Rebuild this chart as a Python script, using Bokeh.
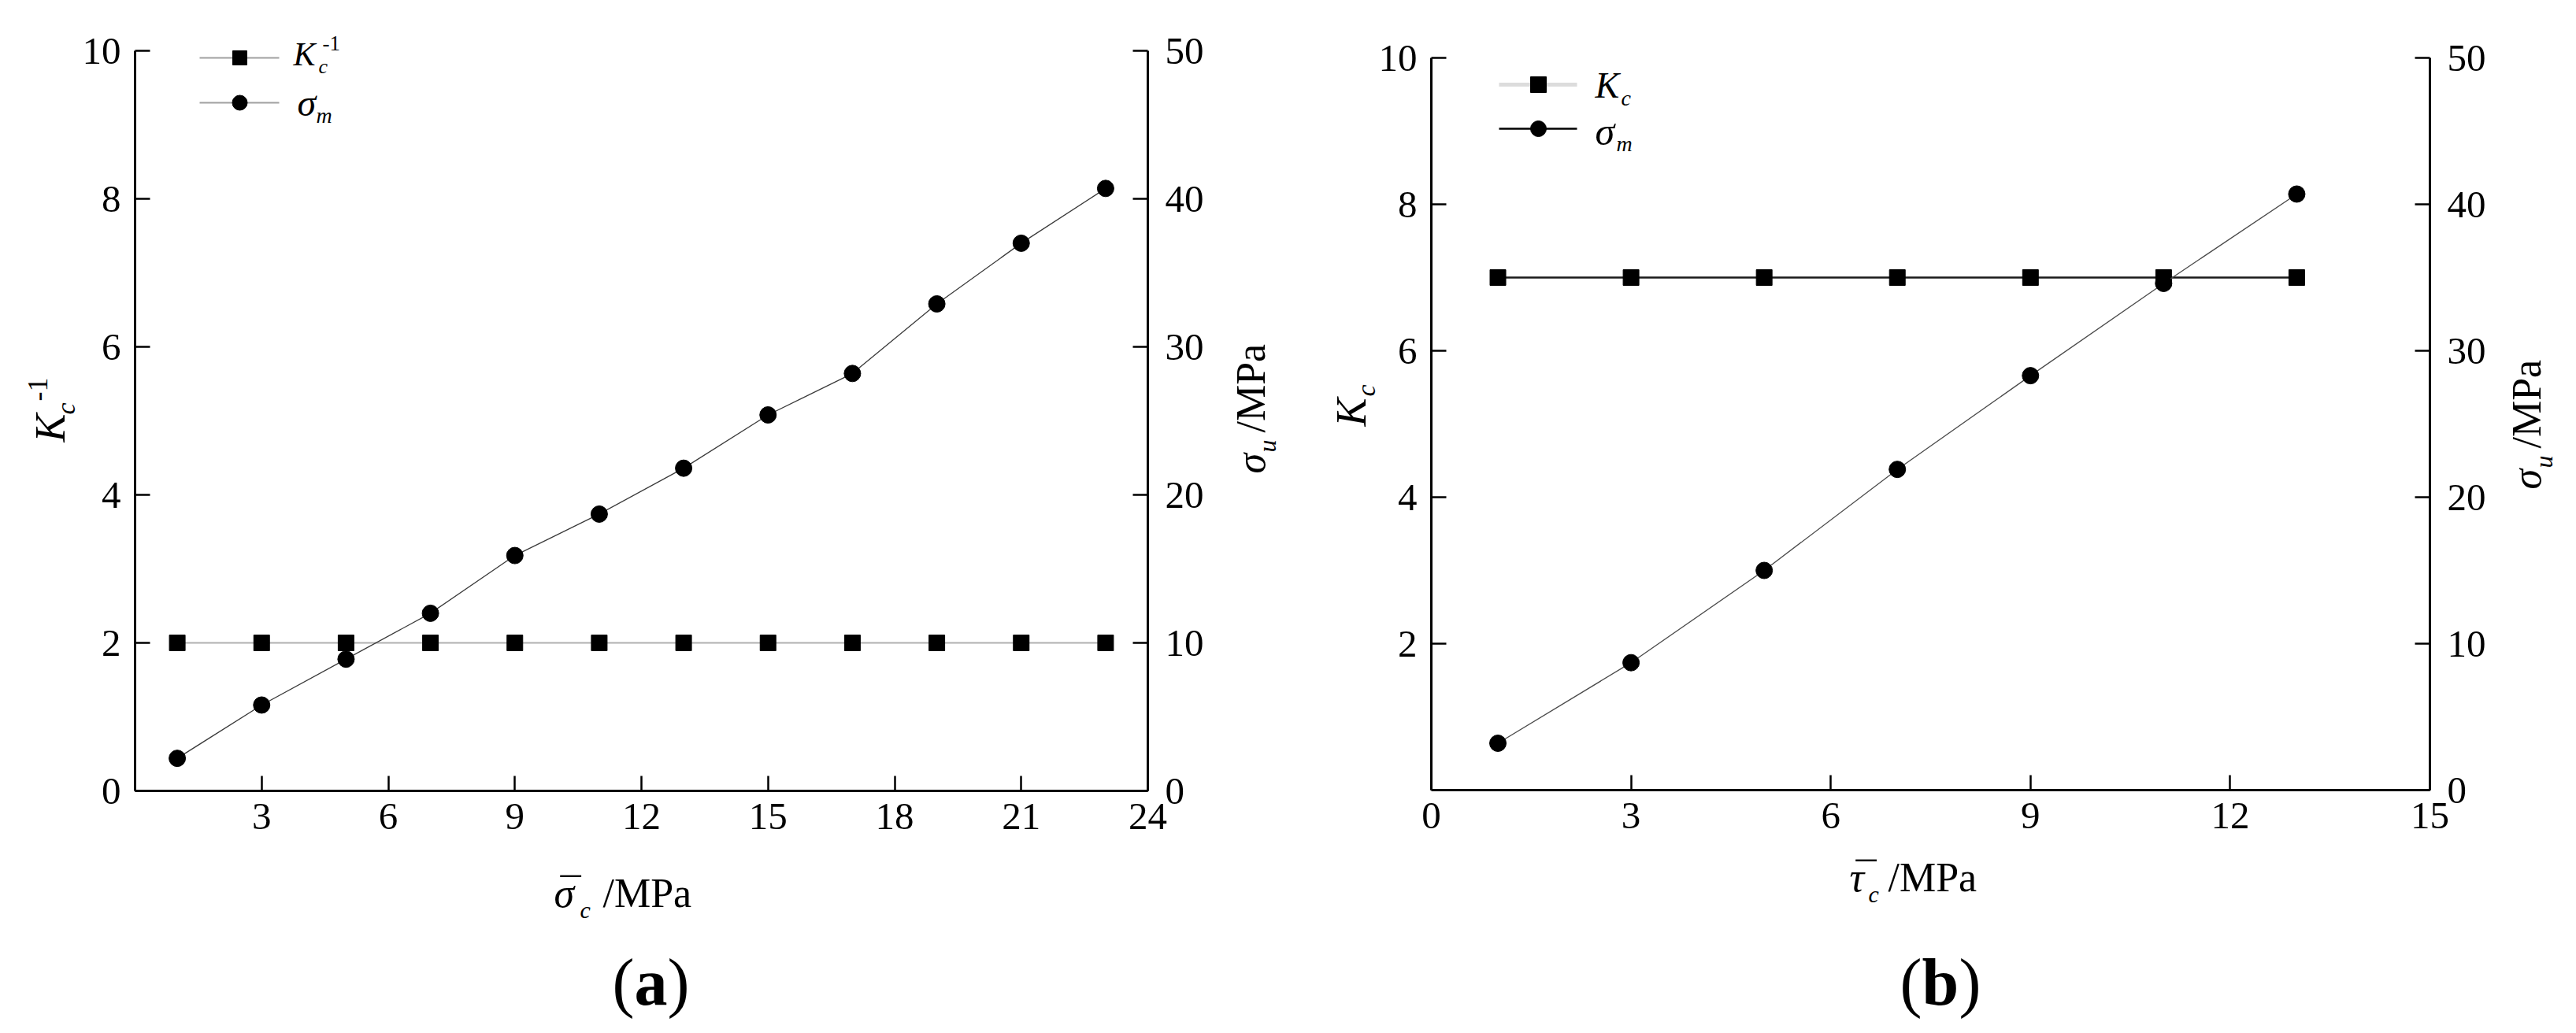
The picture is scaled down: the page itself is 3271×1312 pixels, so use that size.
import math
from bokeh.plotting import figure
from bokeh.models import Range1d, LinearAxis, FixedTicker, Label
from bokeh.layouts import row
from bokeh.embed import file_html
from bokeh.resources import INLINE

# ---------------- data ----------------
# panel (a)
sigma_c_bar = [1, 3, 5, 7, 9, 11, 13, 15, 17, 19, 21, 23]
kc_inv = [2.0, 2.0, 2.0, 2.0, 2.0, 2.0, 2.0, 2.0, 2.0, 2.0, 2.0, 2.0]
sigma_m_a = [2.2, 5.8, 8.9, 12.0, 15.9, 18.7, 21.8, 25.4, 28.2, 32.9, 37.0, 40.7]
xticks_a = [3, 6, 9, 12, 15, 18, 21, 24]
yticks_a = [0, 2, 4, 6, 8, 10]
# panel (b)
tau_c_bar = [1, 3, 5, 7, 9, 11, 13]
kc_b = [7.0, 7.0, 7.0, 7.0, 7.0, 7.0, 7.0]
sigma_m_b = [3.2, 8.7, 15.0, 21.9, 28.3, 34.6, 40.7]
xticks_b = [0, 3, 6, 9, 12, 15]
yticks_b = [2, 4, 6, 8, 10]
rticks = [0, 10, 20, 30, 40, 50]

FONT = "Liberation Serif"
TICK = "49px"
PAGE_TOP, PAGE_BOTTOM = 0, 1300
K_SHIFT = 0.27  # baseline correction (fraction of font size)


def make_fig(px0, px1, X, Y, xmax, xt, yt):
    """Figure whose plotting frame fills the whole canvas; axes sit at fixed locations."""
    p = figure(width=px1 - px0, height=PAGE_BOTTOM - PAGE_TOP,
               x_range=Range1d(X(px0), X(px1)),
               y_range=Range1d(Y(PAGE_BOTTOM), Y(PAGE_TOP)),
               output_backend="svg", toolbar_location=None, min_border=0,
               x_axis_location=None, y_axis_location=None)
    p.extra_y_ranges = {"right": Range1d(5 * Y(PAGE_BOTTOM), 5 * Y(PAGE_TOP))}
    p.outline_line_color = None
    p.xgrid.grid_line_color = None
    p.ygrid.grid_line_color = None
    p.background_fill_color = "white"
    p.border_fill_color = "white"
    bx = LinearAxis(ticker=FixedTicker(ticks=xt), fixed_location=0, bounds=(0, xmax))
    ly = LinearAxis(ticker=FixedTicker(ticks=yt), fixed_location=0, bounds=(0, 10))
    ry = LinearAxis(y_range_name="right", ticker=FixedTicker(ticks=rticks),
                    fixed_location=xmax, bounds=(0, 50))
    for ax, st in ((bx, 16), (ly, 18), (ry, 22)):
        ax.axis_line_width = 3
        ax.axis_line_color = "black"
        ax.major_tick_in = 19
        ax.major_tick_out = 0
        ax.major_tick_line_width = 2.5
        ax.minor_tick_line_color = None
        ax.major_label_text_font = FONT
        ax.major_label_text_font_size = TICK
        ax.major_label_text_color = "black"
        ax.major_label_standoff = st
    p.add_layout(bx, "below")
    p.add_layout(ly, "left")
    p.add_layout(ry, "right")
    return p


def labeler(p, X, Y):
    def lab(px, py, text, size, style="normal", angle=0.0):
        if angle:
            px = px - K_SHIFT * size
        else:
            py = py - K_SHIFT * size
        p.add_layout(Label(x=X(px), y=Y(py), text=text, text_font=FONT,
                           text_font_size=f"{size}px", text_font_style=style,
                           angle=angle, text_align="left", text_baseline="alphabetic",
                           text_color="black"))
    return lab


R = math.pi / 2

# ---------------- panel (a) ----------------
XA = lambda px: (px - 171) * 24 / 1286
YA = lambda py: (1004 - py) * 10 / 940
pa = make_fig(0, 1650, XA, YA, 24, xticks_a, yticks_a)

pa.line(sigma_c_bar, kc_inv, line_color="#b0b0b0", line_width=2)
pa.scatter(sigma_c_bar, kc_inv, marker="square", size=20, color="black")
pa.line(sigma_c_bar, sigma_m_a, y_range_name="right", line_color="#3a3a3a", line_width=1.3)
pa.scatter(sigma_c_bar, sigma_m_a, y_range_name="right", marker="circle", size=21, color="black")

# legend (a)
pa.line([XA(253), XA(354)], [YA(73), YA(73)], line_color="#a0a0a0", line_width=2)
pa.scatter([XA(304)], [YA(73)], marker="square", size=18, color="black")
pa.line([XA(253), XA(354)], [YA(130), YA(130)], line_color="#a0a0a0", line_width=2)
pa.scatter([XA(304)], [YA(130)], marker="circle", size=19, color="black")

la = labeler(pa, XA, YA)
la(372, 80, "K", 42, "italic")
la(404, 91, "c", 26, "italic")
la(409, 62, "-1", 27)
la(377, 143, "σ", 48, "italic")
la(401, 154, "m", 28, "italic")
# left axis label
la(78, 561, "K", 54, "italic", R)
la(92, 526, "c", 34, "italic", R)
la(57, 509, "-1", 36, "normal", R)
# right axis label
la(1602, 601, "σ", 52, "italic", R)
la(1617, 574, "u", 32, "italic", R)
la(1602, 549, "/MPa", 52, "normal", R)
# bottom axis label
la(703, 1148, "σ", 52, "italic")
la(707, 1148, "¯", 52, "italic")
la(736, 1163, "c", 30, "italic")
la(765, 1148, "/MPa", 52)
# caption
la(777, 1270, "(", 84)
la(805, 1270, "a", 84, "bold")
la(847, 1270, ")", 84)

# ---------------- panel (b) ----------------
XB = lambda px: (px - 1817) * 15 / 1268
YB = lambda py: (1003 - py) * 10 / 930
pb = make_fig(1650, 3262, XB, YB, 15, xticks_b, yticks_b)

pb.line(tau_c_bar, kc_b, line_color="#1a1a1a", line_width=2.5)
pb.scatter(tau_c_bar, kc_b, marker="square", size=20, color="black")
pb.line(tau_c_bar, sigma_m_b, y_range_name="right", line_color="#4a4a4a", line_width=1.3)
pb.scatter(tau_c_bar, sigma_m_b, y_range_name="right", marker="circle", size=21, color="black")

# legend (b)
pb.line([XB(1903), XB(2002)], [YB(107), YB(107)], line_color="#dcdcdc", line_width=5)
pb.scatter([XB(1953)], [YB(107)], marker="square", size=20, color="black")
pb.line([XB(1903), XB(2002)], [YB(163), YB(163)], line_color="black", line_width=2.5)
pb.scatter([XB(1953)], [YB(163)], marker="circle", size=20, color="black")

lb = labeler(pb, XB, YB)
lb(2025, 120, "K", 46, "italic")
lb(2058, 132, "c", 28, "italic")
lb(2025, 180, "σ", 50, "italic")
lb(2052, 190, "m", 28, "italic")
# left axis label
lb(1730, 541, "K", 54, "italic", R)
lb(1743, 503, "c", 34, "italic", R)
# right axis label
lb(3222, 621, "σ", 52, "italic", R)
lb(3238, 594, "u", 32, "italic", R)
lb(3222, 569, "/MPa", 52, "normal", R)
# bottom axis label
lb(2348, 1128, "τ", 52, "italic")
lb(2352, 1128, "¯", 52, "italic")
lb(2372, 1143, "c", 30, "italic")
lb(2397, 1128, "/MPa", 52)
# caption
lb(2412, 1270, "(", 84)
lb(2440, 1270, "b", 84, "bold")
lb(2487, 1270, ")", 84)

layout = row(pa, pb, spacing=0)
open("out.html", "w").write(file_html(layout, INLINE))
